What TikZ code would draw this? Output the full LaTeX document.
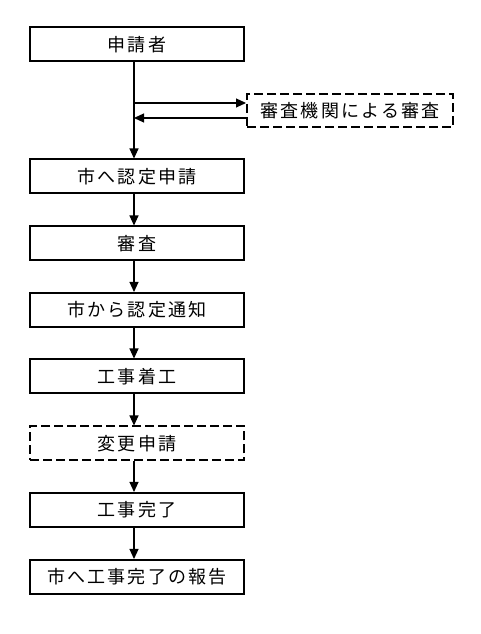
\documentclass[tikz,border=0pt]{standalone}
\usepackage{fontspec}
\newfontfamily\jp[LetterSpace=12]{Noto Sans CJK JP}
\usetikzlibrary{arrows.meta}
\begin{document}
\begin{tikzpicture}[x=1pt,y=1pt,
  box/.style={draw=black,line width=2pt,minimum width=214pt,minimum height=34pt,inner sep=0pt,font=\jp\fontsize{18}{20}\selectfont},
  dbox/.style={box,dashed,dash pattern=on 9pt off 4pt},
  conn/.style={line width=1.1pt,-{Triangle[length=10pt,width=9pt]}}]
\useasboundingbox (0,0) rectangle (480,634);
\fill[white] (0,0) rectangle (480,634);
\node[box] (a) at (137,589.5) {申請者};
\node[dbox,minimum width=206pt,minimum height=33pt] (r) at (350,523.5) {審査機関による審査};
\node[box] (b) at (137,457.5) {市へ認定申請};
\node[box] (c) at (137,390.5) {審査};
\node[box] (d) at (137,324) {市から認定通知};
\node[box] (e) at (137,257.5) {工事着工};
\node[dbox] (f) at (137,190.5) {変更申請};
\node[box] (g) at (137,124) {工事完了};
\node[box] (h) at (137,57) {市へ工事完了の報告};
\coordinate (j1) at ([xshift=-3pt]a.south |- 0,531);
\coordinate (j2) at ([xshift=-3pt]a.south |- 0,516);
\draw[conn] ([xshift=-3pt]a.south) -- ([xshift=-3pt]b.north);
\draw[conn] (j1) -- (j1 -| r.west);
\draw[conn] (j2 -| r.west) -- (j2);
\draw[conn] ([xshift=-3pt]b.south) -- ([xshift=-3pt]c.north);
\draw[conn] ([xshift=-3pt]c.south) -- ([xshift=-3pt]d.north);
\draw[conn] ([xshift=-3pt]d.south) -- ([xshift=-3pt]e.north);
\draw[conn] ([xshift=-3pt]e.south) -- ([xshift=-3pt]f.north);
\draw[conn] ([xshift=-3pt]f.south) -- ([xshift=-3pt]g.north);
\draw[conn] ([xshift=-3pt]g.south) -- ([xshift=-3pt]h.north);
\end{tikzpicture}
\end{document}
